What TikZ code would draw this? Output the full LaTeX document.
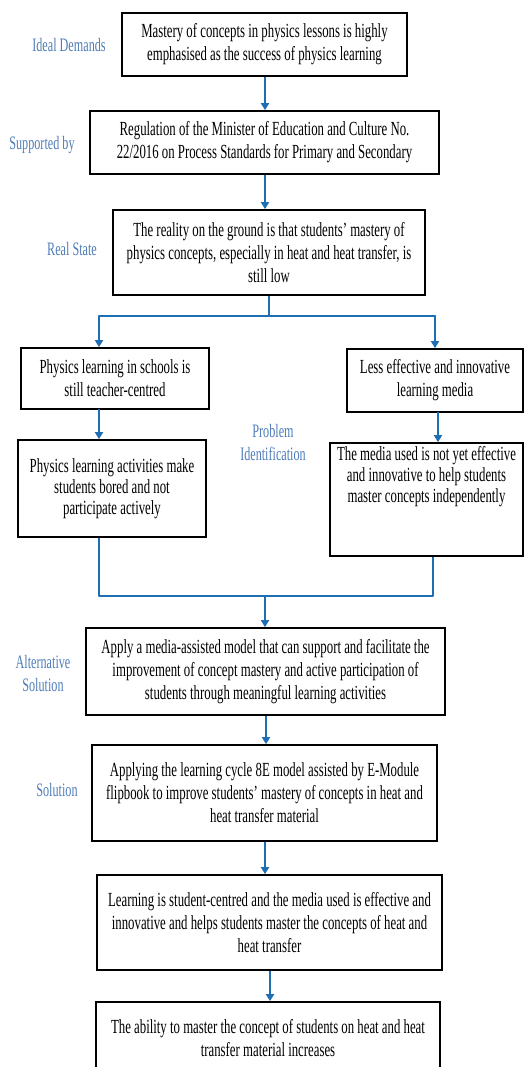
\documentclass[tikz,border=0pt]{standalone}
\usepackage{fontspec}
\setmainfont{Liberation Serif}[FakeStretch=0.64]
\usetikzlibrary{arrows.meta}
\definecolor{linkblue}{RGB}{30,110,180}
\definecolor{tagblue}{RGB}{79,125,185}
\tikzset{
  box/.style={draw, line width=1.7pt, align=center, inner sep=0pt,
    font=\fontsize{20}{23}\selectfont},
  tag/.style={align=center, text=tagblue, font=\fontsize{19}{23}\selectfont},
  arr/.style={draw=linkblue, line width=2pt, -{Triangle[width=8pt,length=7pt]}},
  link/.style={draw=linkblue, line width=2.6pt},
}
\begin{document}
\begin{tikzpicture}[x=1pt, y=-1pt]
  \useasboundingbox (0,0) rectangle (532,1067);
  % main column
  \node[box, minimum width=285, minimum height=63] (b1) at (264.5,44.5)
    {Mastery of concepts in physics lessons is highly\\emphasised as the success of physics learning};
  \node[box, minimum width=349, minimum height=63] (b2) at (264.5,142.5)
    {Regulation of the Minister of Education and Culture No.\\22/2016 on Process Standards for Primary and Secondary};
  \node[box, minimum width=312, minimum height=85] (b3) at (269,252.5)
    {The reality on the ground is that students' mastery of\\physics concepts, especially in heat and heat transfer, is\\still low};
  % two branches
  \node[box, minimum width=188, minimum height=61] (l1) at (115,378.5)
    {Physics learning in schools is\\still teacher-centred};
  \node[box, minimum width=176, minimum height=63] (r1) at (435,380.5)
    {Less effective and innovative\\learning media};
  \node[box, minimum width=188, minimum height=97, font=\fontsize{20}{21}\selectfont] (l2) at (112,488.5)
    {Physics learning activities make\\students bored and not\\participate actively};
  \node[box, minimum width=193, minimum height=113] (r2) at (426.5,499.5) {};
  \node[align=center, font=\fontsize{20}{21}\selectfont, anchor=north] (r2t) at (426.5,443)
    {The media used is not yet effective\\and innovative to help students\\master concepts independently};
  % solution column
  \node[box, minimum width=359, minimum height=87] (b6) at (265.5,671.5)
    {Apply a media-assisted model that can support and facilitate the\\improvement of concept mastery and active participation of\\students through meaningful learning activities};
  \node[box, minimum width=345, minimum height=96] (b7) at (264.5,793)
    {Applying the learning cycle 8E model assisted by E-Module\\flipbook to improve students' mastery of concepts in heat and\\heat transfer material};
  \node[box, minimum width=345, minimum height=95] (b8) at (269.5,922.5)
    {Learning is student-centred and the media used is effective and\\innovative and helps students master the concepts of heat and\\heat transfer};
  \node[box, minimum width=344, minimum height=72] (b9) at (268,1038)
    {The ability to master the concept of students on heat and heat\\transfer material increases};
  % side labels
  \node[tag] (t1) at (69,45) {Ideal Demands};
  \node[tag] (t2) at (42,145) {Supported by};
  \node[tag] (t3) at (72,249) {Real State};
  \node[tag] (t4) at (273,442) {Problem\\Identification};
  \node[tag] (t5) at (43,673) {Alternative\\Solution};
  \node[tag] (t6) at (57,790) {Solution};
  % straight arrows
  \foreach \a/\b in {b1/b2,b2/b3,b6/b7,b7/b8,b8/b9}
    \draw[arr] ([xshift=0.5pt]\a.south) -- ([xshift=0.5pt]\a.south |- \b.north);
  % split
  \coordinate (sl) at (99,316);
  \coordinate (sr) at (435,316);
  \draw[link] (b3.south) -- (b3.south |- sl);
  \draw[link, line cap=round] (sl) -- (sr);
  \draw[arr] (sl) -- (sl |- l1.north);
  \draw[arr] (sr) -- (sr |- r1.north);
  \draw[arr] (99,409) coordinate (la) -- (la |- l2.north);
  \draw[arr] (438,412) coordinate (ra) -- (ra |- r2.north);
  % merge
  \coordinate (ml) at (99,596);
  \coordinate (mr) at (433,596);
  \draw[link, line join=round] (l2.south -| ml) -- (ml) -- (mr) -- (r2.south -| mr);
  \draw[arr] (265,596) coordinate (mm) -- (mm |- b6.north);
\end{tikzpicture}
\end{document}
